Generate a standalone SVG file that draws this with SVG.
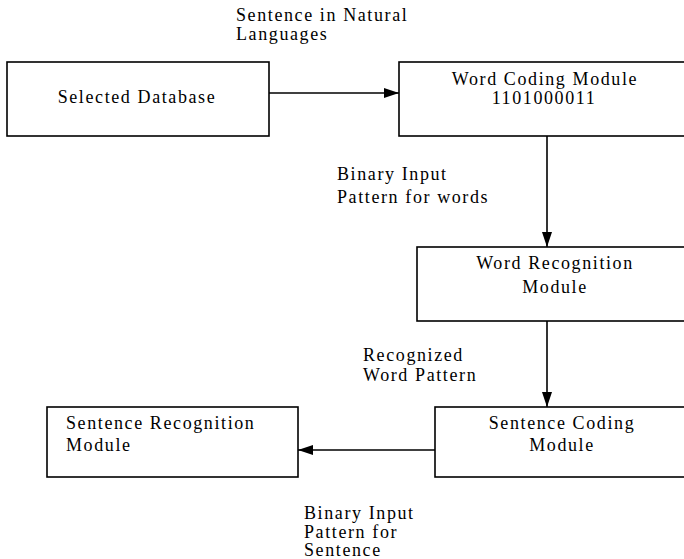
<svg xmlns="http://www.w3.org/2000/svg" width="684" height="559" viewBox="0 0 684 559">
<style>
.box{fill:#fff;stroke:#000;stroke-width:1.6}
.t{font-family:"Liberation Serif","Times New Roman",serif;font-size:18px;letter-spacing:1.6px;fill:#000}
.c{text-anchor:middle}
.ln{stroke:#000;stroke-width:1.6;fill:none}
</style>
<defs>
<marker id="ah" viewBox="0 0 15 10" refX="15" refY="5" markerWidth="15" markerHeight="10" orient="auto" markerUnits="userSpaceOnUse">
<path d="M0,0 L15,5 L0,10 z" fill="#000"/>
</marker>
</defs>
<rect width="684" height="559" fill="#fff"/>
<g id="connectors">
<line class="ln" x1="269" y1="93" x2="399" y2="93" marker-end="url(#ah)"/>
<line class="ln" x1="547" y1="136" x2="547" y2="247" marker-end="url(#ah)"/>
<line class="ln" x1="547" y1="321" x2="547" y2="407" marker-end="url(#ah)"/>
<line class="ln" x1="435" y1="450" x2="298" y2="450" marker-end="url(#ah)"/>
</g>
<g id="selected-database">
<rect class="box" x="7" y="62" width="262" height="74"/>
<text class="t c" x="137" y="103">Selected Database</text>
</g>
<g id="word-coding">
<rect class="box" x="399" y="62" width="290" height="74"/>
<text class="t c" x="545" y="85">Word Coding Module</text>
<text class="t c" x="544" y="104">1101000011</text>
</g>
<g id="word-recognition">
<rect class="box" x="417" y="247" width="272" height="74"/>
<text class="t c" x="555" y="269">Word Recognition</text>
<text class="t c" x="555" y="293">Module</text>
</g>
<g id="sentence-coding">
<rect class="box" x="435" y="407" width="254" height="70"/>
<text class="t c" x="562" y="429">Sentence Coding</text>
<text class="t c" x="562" y="451">Module</text>
</g>
<g id="sentence-recognition">
<rect class="box" x="47" y="407" width="251" height="70"/>
<text class="t" x="66" y="429">Sentence Recognition</text>
<text class="t" x="66" y="451">Module</text>
</g>
<g id="labels">
<text class="t" x="236" y="21">Sentence in Natural</text>
<text class="t" x="236" y="40">Languages</text>
<text class="t" x="337" y="180">Binary Input</text>
<text class="t" x="337" y="203">Pattern for words</text>
<text class="t" x="363" y="361">Recognized</text>
<text class="t" x="363" y="381">Word Pattern</text>
<text class="t" x="304" y="519">Binary Input</text>
<text class="t" x="304" y="538">Pattern for</text>
<text class="t" x="304" y="556">Sentence</text>
</g>
</svg>
